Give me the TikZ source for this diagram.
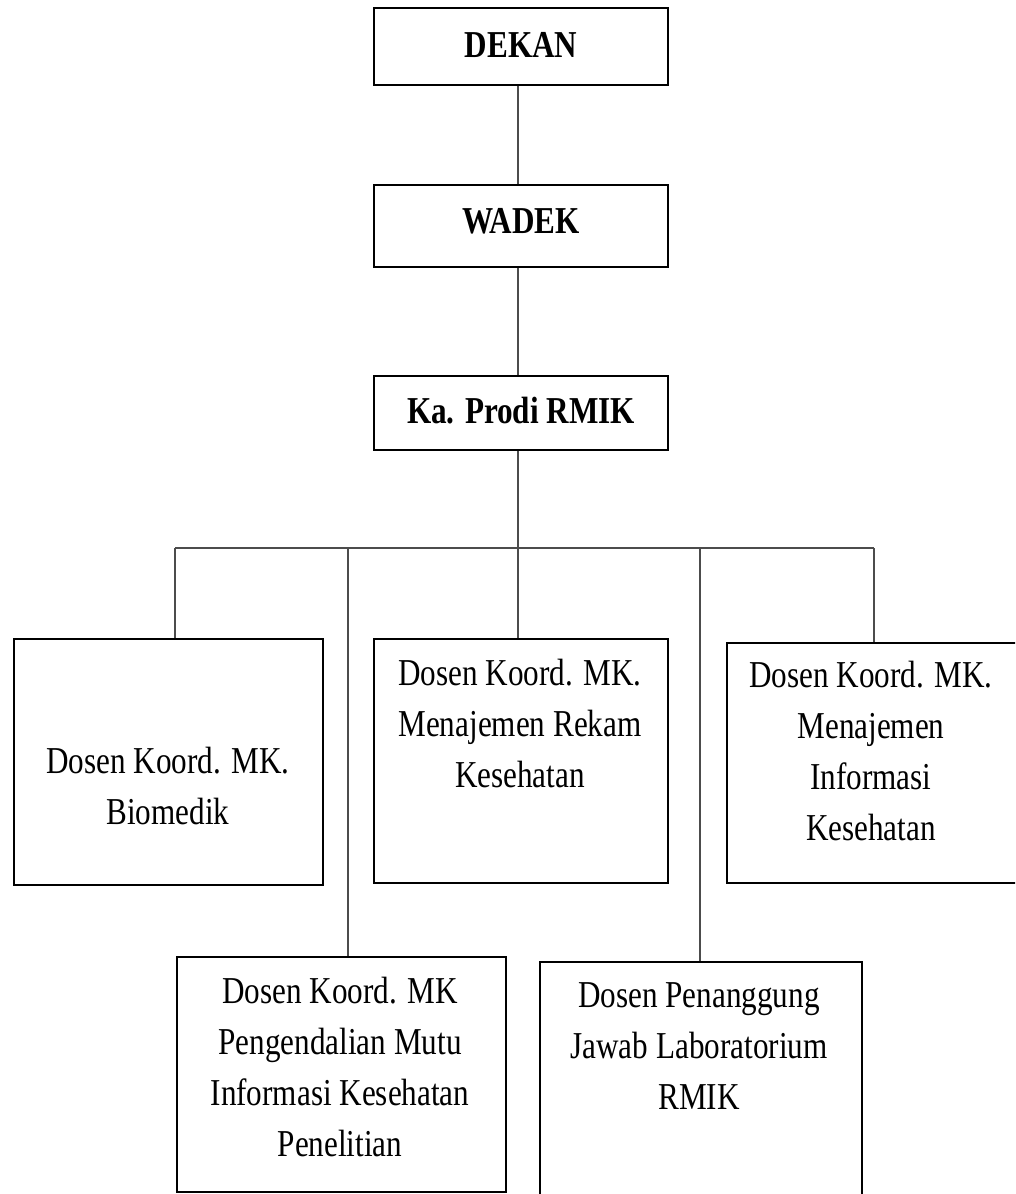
\documentclass[tikz,border=0pt]{standalone}
\usepackage{fontspec}
\newfontfamily\chartfont[FakeStretch=0.82]{Liberation Serif}
\begin{document}
\begin{tikzpicture}[x=1pt,y=-1pt,
  box/.style={draw=black,line width=1.8pt,rectangle,inner sep=0pt},
  link/.style={draw=black!70,line width=1.8pt},
  toptext/.style={font=\chartfont\fontsize{38}{51}\selectfont\bfseries,inner sep=0pt,anchor=base},
  boxtext/.style={font=\chartfont\fontsize{38}{51}\selectfont,inner sep=0pt,anchor=north,align=center}]
\useasboundingbox (0,0) rectangle (1015,1194);
\clip (0,0) rectangle (1015,1194);
% boxes
\node[box,minimum width=294pt,minimum height=77pt] (dekan) at (521,46.5) {};
\node[box,minimum width=294pt,minimum height=82pt] (wadek) at (521,226) {};
\node[box,minimum width=294pt,minimum height=74pt] (kaprodi) at (521,413) {};
\node[box,minimum width=309pt,minimum height=246pt] (bio) at (168.5,762) {};
\node[box,minimum width=294pt,minimum height=244pt] (rekam) at (521,761) {};
\node[box,minimum width=303pt,minimum height=240pt] (info) at (878.5,763) {};
\node[box,minimum width=329pt,minimum height=235pt] (mutu) at (341.5,1074.5) {};
\node[box,minimum width=322pt,minimum height=253pt] (lab) at (701,1088.5) {};
% texts
\node[toptext] (tdekan) at (521,57) {DEKAN};
\node[toptext] (twadek) at (521,233) {WADEK};
\node[toptext] (tkaprodi) at (521,423) {Ka. Prodi RMIK};
\node[boxtext] (tbio) at (168,747) {Dosen Koord. MK.\\Biomedik};
\node[boxtext] (trekam) at (520,659) {Dosen Koord. MK.\\Menajemen Rekam\\Kesehatan};
\node[boxtext] (tinfo) at (871,661) {Dosen Koord. MK.\\Menajemen\\Informasi\\Kesehatan};
\node[boxtext] (tmutu) at (340,977) {Dosen Koord. MK\\Pengendalian Mutu\\Informasi Kesehatan\\Penelitian};
\node[boxtext] (tlab) at (699,982) {Dosen Penanggung\\Jawab Laboratorium\\RMIK};
% connectors
\coordinate (spine) at (518,0);
\coordinate (b1) at (175,548);
\coordinate (b2) at (348,548);
\coordinate (b3) at (518,548);
\coordinate (b4) at (700,548);
\coordinate (b5) at (874,548);
\draw[link] (dekan.south -| spine) -- (wadek.north -| spine);
\draw[link] (wadek.south -| spine) -- (kaprodi.north -| spine);
\draw[link] (kaprodi.south -| spine) -- (b3);
\draw[link] (b1) -- (b5);
\draw[link] (b1) -- (b1 |- bio.north);
\draw[link] (b2) -- (b2 |- mutu.north);
\draw[link] (b3) -- (b3 |- rekam.north);
\draw[link] (b4) -- (b4 |- lab.north);
\draw[link] (b5) -- (b5 |- info.north);
\end{tikzpicture}
\end{document}
